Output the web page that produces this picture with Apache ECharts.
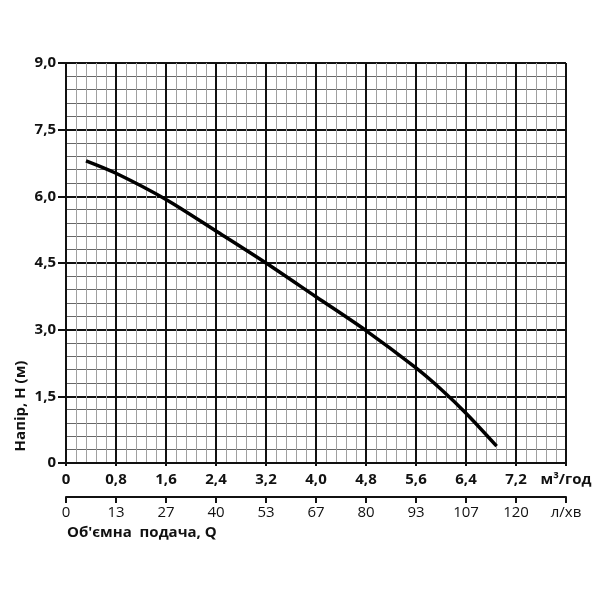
<!DOCTYPE html>
<html>
<head>
<meta charset="utf-8">
<script src="https://cdn.jsdelivr.net/npm/echarts@6/dist/echarts.min.js"></script>
<style>
  html, body { margin: 0; padding: 0; background: #fff; }
  #chart { width: 600px; height: 600px; }
</style>
</head>
<body>
<div id="chart"></div>
<script>
// flow in m3/h vs head in m
const flowM3h = [0.32, 0.8, 1.6, 2.4, 3.2, 4.0, 4.8, 5.6, 6.0, 6.4, 6.89]
const headM = [6.8, 6.52, 5.93, 5.22, 4.5, 3.74, 2.98, 2.14, 1.66, 1.12, 0.38]

const m3hLabels = ['0', '0,8', '1,6', '2,4', '3,2', '4,0', '4,8', '5,6', '6,4', '7,2', 'м³/год']
const lpmLabels = ['0', '13', '27', '40', '53', '67', '80', '93', '107', '120', 'л/хв']
const headLabels = ['0', '1,5', '3,0', '4,5', '6,0', '7,5', '9,0']

const FONT = 'Open Sans'
const chart = echarts.init(document.getElementById('chart'))

const idx = (v, step) => Math.round(v / step)

const option = {
	animation: false,
	grid: { left: 66, right: 34, top: 63, bottom: 137 },
	xAxis: [
		{
			type: 'value',
			min: 0,
			max: 8,
			interval: 0.8,
			position: 'bottom',
			axisLine: { show: true, lineStyle: { color: '#111', width: 2 } },
			axisTick: { show: true, length: 3, lineStyle: { color: '#111', width: 2 } },
			axisLabel: {
				show: true,
				margin: 9,
				color: '#111',
				fontFamily: FONT,
				fontWeight: 'bold',
				fontSize: 15,
				showMaxLabel: true,
				formatter: (v) => m3hLabels[idx(v, 0.8)],
			},
			splitLine: { show: true, lineStyle: { color: '#111', width: 2 } },
			minorTick: { show: false, splitNumber: 5 },
			minorSplitLine: { show: true, lineStyle: { color: '#a0a0a0', width: 1 } },
		},
		{
			type: 'value',
			min: 0,
			max: 8,
			interval: 0.8,
			position: 'bottom',
			offset: 34,
			axisLine: { show: true, lineStyle: { color: '#111', width: 2 } },
			axisTick: { show: true, inside: false, length: 6, lineStyle: { color: '#111', width: 2 } },
			axisLabel: {
				show: true,
				margin: 8,
				color: '#111',
				fontFamily: FONT,
				fontSize: 15,
				showMaxLabel: true,
				formatter: (v) => lpmLabels[idx(v, 0.8)],
			},
			splitLine: { show: false },
		},
	],
	yAxis: {
		type: 'value',
		min: 0,
		max: 9,
		interval: 1.5,
		axisLine: { show: true, lineStyle: { color: '#111', width: 2 } },
		axisTick: { show: true, length: 8, lineStyle: { color: '#111', width: 2 } },
		axisLabel: {
			margin: 10,
			color: '#111',
			fontFamily: FONT,
			fontWeight: 'bold',
			fontSize: 15,
			formatter: (v) => headLabels[idx(v, 1.5)],
		},
		splitLine: { show: true, lineStyle: { color: '#111', width: 2 } },
		minorTick: { show: false, splitNumber: 5 },
		minorSplitLine: { show: true, lineStyle: { color: '#666', width: 1 } },
	},
	graphic: [
		{
			type: 'text',
			left: 67,
			top: 525,
			style: {
				text: "Об'ємна  подача, Q",
				fontFamily: FONT,
				fontWeight: 'bold',
				fontSize: 15,
				fill: '#111',
			},
		},
		{
			type: 'text',
			x: 21,
			y: 406,
			rotation: Math.PI / 2,
			style: {
				text: 'Напір, Н (м)',
				fontFamily: FONT,
				fontWeight: 'bold',
				fontSize: 15,
				fill: '#111',
				align: 'center',
				verticalAlign: 'middle',
			},
		},
	],
	series: [
		{
			type: 'line',
			xAxisIndex: 0,
			data: flowM3h.map((q, i) => [q, headM[i]]),
			smooth: 0.3,
			showSymbol: false,
			lineStyle: { color: '#000', width: 3.5 },
		},
	],
}

chart.setOption(option)
</script>
</body>
</html>
